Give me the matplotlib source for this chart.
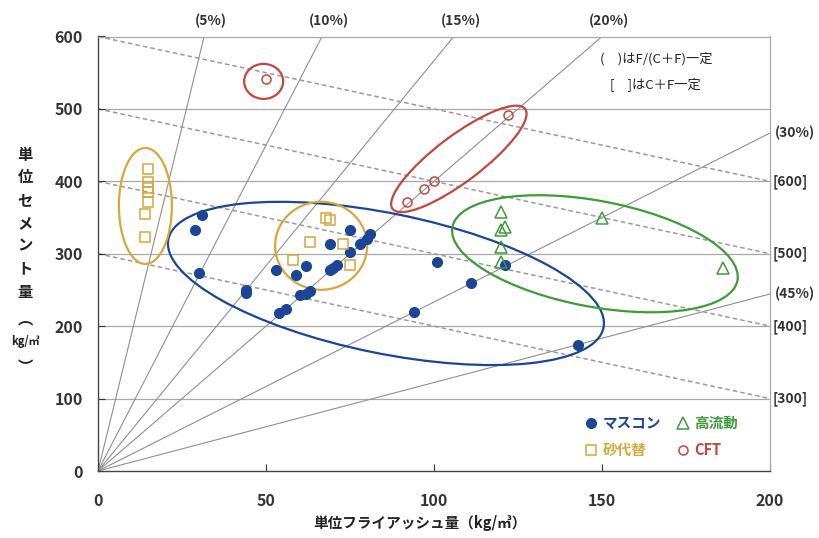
import matplotlib
matplotlib.use("Agg")
import matplotlib.pyplot as plt
from matplotlib.patches import Ellipse
from matplotlib.transforms import ScaledTranslation

plt.rcParams['font.family'] = ['Noto Sans CJK JP', 'DejaVu Sans']

# マスコン
mass_x = [31, 29, 30, 44, 44, 53, 59, 62, 54, 56, 60, 62, 63, 69, 70, 71,
          69, 75, 75, 78, 80, 81, 101, 111, 94, 121, 143]
mass_y = [354, 333, 273, 250, 246, 277, 270, 283, 218, 224, 243, 245, 249, 277, 281, 285,
          313, 333, 302, 313, 320, 327, 289, 260, 220, 284, 174]
# 砂代替
sand_x = [15, 15, 15, 15, 15, 14, 14, 68, 69, 63, 73, 58, 75]
sand_y = [417, 399, 391, 385, 371, 355, 323, 349, 347, 316, 313, 291, 285]
# 高流動
flow_x = [120, 121, 120, 120, 120, 150, 186]
flow_y = [357, 337, 333, 309, 288, 349, 280]
# CFT
cft_x = [50, 92, 97, 100, 122]
cft_y = [541, 371, 390, 401, 491]

# F/(C+F) 一定の線 (%)
ratio_pct = [5, 10, 15, 20, 30, 45]
# C+F 一定の線
total_cf = [300, 400, 500, 600]

x_ticks = [0, 50, 100, 150, 200]
y_ticks = [0, 100, 200, 300, 400, 500, 600]

c_blue = '#1b4597'
c_gold = '#d6a73c'
c_green = '#3f9a3a'
c_red = '#c2473d'
c_grid = '#a8a8a8'

fig = plt.figure(figsize=(8.19, 5.38), dpi=100)
ax = fig.add_axes([98 / 819, 1 - 471 / 538, 672 / 819, 434.5 / 538])
ax.set_xlim(0, 200)
ax.set_ylim(0, 600)

for y in y_ticks[1:]:
    ax.axhline(y, color=c_grid, lw=0.9, zorder=1)

# 原点からの放射線
for p in ratio_pct:
    k = (100 - p) / p
    if 200 * k <= 600:
        xe, ye = 200, 200 * k
        ax.text(201.5, ye, f'({p}%)', ha='left', va='center', fontsize=10,
                fontweight='bold', color='#333333', clip_on=False)
    else:
        xe, ye = 600 / k, 600
        ax.text(xe + 2, 612, f'({p}%)', ha='center', va='bottom', fontsize=10,
                fontweight='bold', color='#333333', clip_on=False)
    ax.plot([0, xe], [0, ye], color='#8f8f8f', lw=0.8, zorder=1)

# C+F 一定 (破線)
for t in total_cf:
    ax.plot([0, 200], [t, t - 200], color='#9a9a9a', lw=1.1, ls=(0, (3, 2)), zorder=1)
    ax.text(200.8, t - 200, f'[{t}]', ha='left', va='center', fontsize=10,
            fontweight='bold', color='#333333', clip_on=False)

ax.plot(mass_x, mass_y, 'o', ms=7, color=c_blue, mec=c_blue, zorder=4, label='マスコン')
ax.plot(sand_x, sand_y, 's', ms=7, mfc='none', mec=c_gold, mew=1.1, zorder=4, label='砂代替')
ax.plot(flow_x, flow_y, '^', ms=8, mfc='none', mec=c_green, mew=1.1, zorder=4, label='高流動')
ax.plot(cft_x, cft_y, 'o', ms=6.5, mfc='none', mec=c_red, mew=1.1, zorder=4, label='CFT')


def ring(cx, cy, w, h, ang, color):
    # 中心はデータ座標、大きさと傾きは画面上のピクセル
    tr = fig.dpi_scale_trans + ScaledTranslation(cx, cy, ax.transData)
    ax.add_patch(Ellipse((0, 0), w / 100, h / 100, angle=ang, transform=tr,
                         fill=False, ec=color, lw=1.6, zorder=3))


ring(85.7, 259, 444, 140, -11.5, c_blue)
ring(147.9, 300, 290, 106, -10.6, c_green)
ring(107.4, 431, 166, 46, 37, c_red)
ring(49.3, 538, 39, 35, 0, c_red)
ring(66.4, 311, 92, 88, 0, c_gold)
ring(14.1, 366, 53, 116, 0, c_gold)

ax.set_xticks(x_ticks)
ax.set_yticks(y_ticks)
ax.tick_params(direction='in', length=5, width=0.8, labelsize=11.5, colors='#333333')
ax.tick_params(axis='x', pad=16)
ax.tick_params(axis='y', pad=11)
for lab in ax.get_xticklabels() + ax.get_yticklabels():
    lab.set_fontweight('bold')
for s in ['top', 'right']:
    ax.spines[s].set_color(c_grid)
    ax.spines[s].set_linewidth(0.9)
for s in ['left', 'bottom']:
    ax.spines[s].set_color('#444444')
    ax.spines[s].set_linewidth(1.0)

leg = ax.legend(ncol=2, loc='lower left', bbox_to_anchor=(0.705, 0.0), frameon=False,
                handlelength=0.8, handletextpad=0.4, columnspacing=1.1, labelspacing=0.75,
                prop={'size': 10.5, 'weight': 'bold'})
for txt, col in zip(leg.get_texts(), [c_blue, c_gold, c_green, c_red]):
    txt.set_color(col)

fig.text(600 / 819, 1 - 59 / 538, '(\u2002\u2002)はF/(C＋F)一定', fontsize=9.5, va='center',
         color='#222222')
fig.text(610 / 819, 1 - 84 / 538, '[\u2002\u2002]はC＋F一定', fontsize=9.5, va='center',
         color='#222222')

fig.text(420 / 819, 1 - 523 / 538, '単位フライアッシュ量（kg/㎥）', ha='center', va='center',
         fontsize=10.5, fontweight='bold', color='#222222')

# 縦書きの軸ラベル
ylab = ['単', '位', 'セ', 'メ', 'ン', 'ト', '量', '︵', 'kg/㎥', '︶']
ylab_y = [155, 177, 200, 223, 245, 268, 292, 318, 342, 367]
for ch, yy in zip(ylab, ylab_y):
    fs = 8 if ch == 'kg/㎥' else 11
    fig.text(25 / 819, 1 - yy / 538, ch, ha='center', va='center', fontsize=fs,
             fontweight='bold', color='#222222')

fig.savefig('out.png', dpi=100)
